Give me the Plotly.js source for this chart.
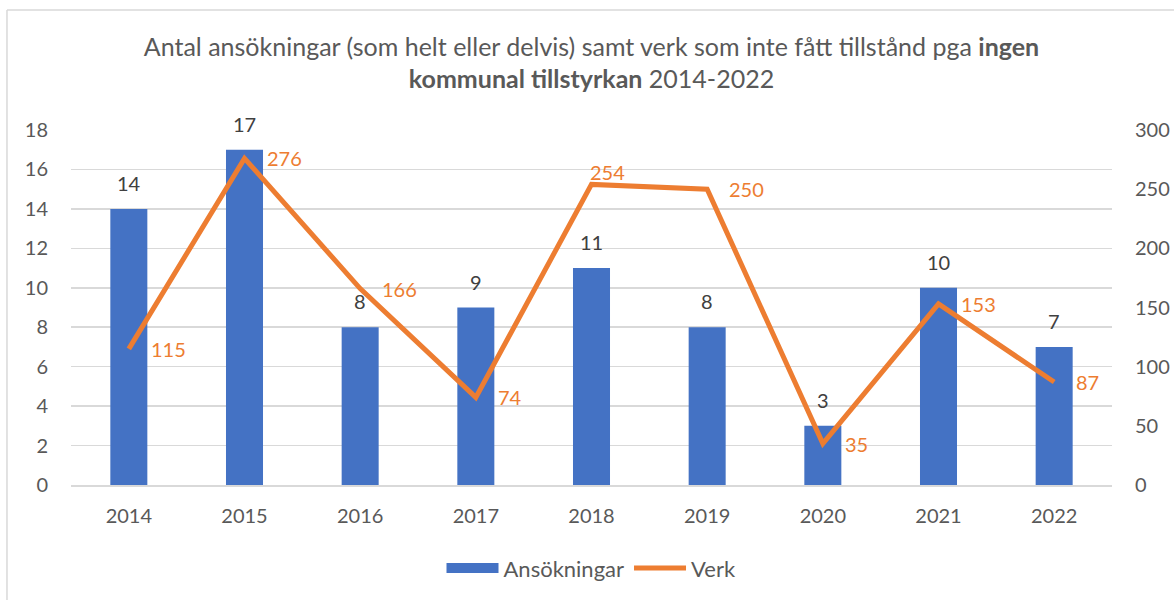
<!DOCTYPE html>
<html>
<head>
<meta charset="utf-8">
<script src="https://cdn.plot.ly/plotly-3.0.1.min.js"></script>
<style>html,body{margin:0;padding:0;background:#fff;}#chart{width:1174px;height:600px;}</style>
</head>
<body>
<div id="chart"></div>
<script>
const years = ['2014','2015','2016','2017','2018','2019','2020','2021','2022'];
const ansokningar = [14, 17, 8, 9, 11, 8, 3, 10, 7];
const verk = [115, 276, 166, 74, 254, 250, 35, 153, 87];

const FONT = 'Lato, "Open Sans", sans-serif';
const BLUE = '#4472C4';
const ORANGE = '#ED7D31';

const barTrace = {
  type: 'bar', name: 'Ansökningar', x: years, y: ansokningar,
  marker: {color: BLUE}, yaxis: 'y', showlegend: false
};
const barLegend = {
  type: 'scatter', mode: 'lines', name: 'Ansökningar', x: [null], y: [null],
  line: {color: BLUE, width: 13}, yaxis: 'y', showlegend: true
};
const lineTrace = {
  type: 'scatter', mode: 'lines', name: 'Verk', x: years, y: verk,
  line: {color: ORANGE, width: 5}, yaxis: 'y2'
};

const annotations = [];
years.forEach((yr, i) => {
  annotations.push({
    x: i, y: ansokningar[i], xref: 'x', yref: 'y', text: String(ansokningar[i]),
    showarrow: false, yanchor: 'bottom', yshift: 12,
    font: {family: FONT, size: 20, color: '#404040'}
  });
  // Excel nudges the label above the line where it would sit on a flat segment
  const flat = (i > 0 && i < verk.length - 1 && verk[i] > verk[i - 1] && Math.abs(verk[i + 1] - verk[i]) < 10);
  annotations.push({
    x: i, y: verk[i], xref: 'x', yref: 'y2', text: String(verk[i]),
    showarrow: false, xanchor: 'left', yanchor: 'middle',
    xshift: flat ? -4 : 20, yshift: flat ? 12 : 0,
    font: {family: FONT, size: 20, color: ORANGE}
  });
});

const layout = {
  width: 1174, height: 600,
  margin: {l: 71, r: 62, t: 130, b: 115},
  paper_bgcolor: '#ffffff', plot_bgcolor: '#ffffff',
  font: {family: FONT, color: '#595959'},
  title: {
    text: 'Antal ansökningar (som helt eller delvis) samt verk som inte fått tillstånd pga <b>ingen</b><br><b>kommunal tillstyrkan</b> 2014-2022',
    font: {family: FONT, size: 25, color: '#595959'},
    x: 0.5, xref: 'paper', xanchor: 'center', y: 0.907, yref: 'container', yanchor: 'top'
  },
  xaxis: {
    type: 'category', range: [-0.5, 8.5], autorange: false, showgrid: false, showline: true, linecolor: '#D9D9D9', linewidth: 1.5,
    ticks: '', tickfont: {family: FONT, size: 20, color: '#595959'}, ticklabelstandoff: 12
  },
  yaxis: {
    range: [0, 18], dtick: 2, showgrid: true, gridcolor: '#D9D9D9', gridwidth: 1.5,
    zeroline: false, ticks: '', tickfont: {family: FONT, size: 20, color: '#595959'},
    ticklabelstandoff: 22
  },
  yaxis2: {
    range: [0, 300], dtick: 50, overlaying: 'y', side: 'right', showgrid: false,
    zeroline: false, ticks: '', tickfont: {family: FONT, size: 20, color: '#595959'},
    ticklabelstandoff: 22
  },
  legend: {
    orientation: 'h', x: 0.5, xanchor: 'center', xref: 'paper', y: 0.053, yref: 'container', yanchor: 'middle',
    font: {family: FONT, size: 22, color: '#595959'}, traceorder: 'normal', itemwidth: 52
  },
  bargap: 0.68,
  annotations: annotations,
  shapes: [
    {type: 'line', xref: 'paper', yref: 'paper', x0: -0.0615, x1: 1.2, y0: 1.338, y1: 1.338, line: {color: '#D9D9D9', width: 1.5}},
    {type: 'line', xref: 'paper', yref: 'paper', x0: -0.0615, x1: -0.0615, y0: 1.338, y1: -0.5, line: {color: '#D9D9D9', width: 1.5}}
  ],
  showlegend: true
};

Plotly.newPlot('chart', [barTrace, barLegend, lineTrace], layout, {displayModeBar: false, staticPlot: true});
</script>
</body>
</html>
